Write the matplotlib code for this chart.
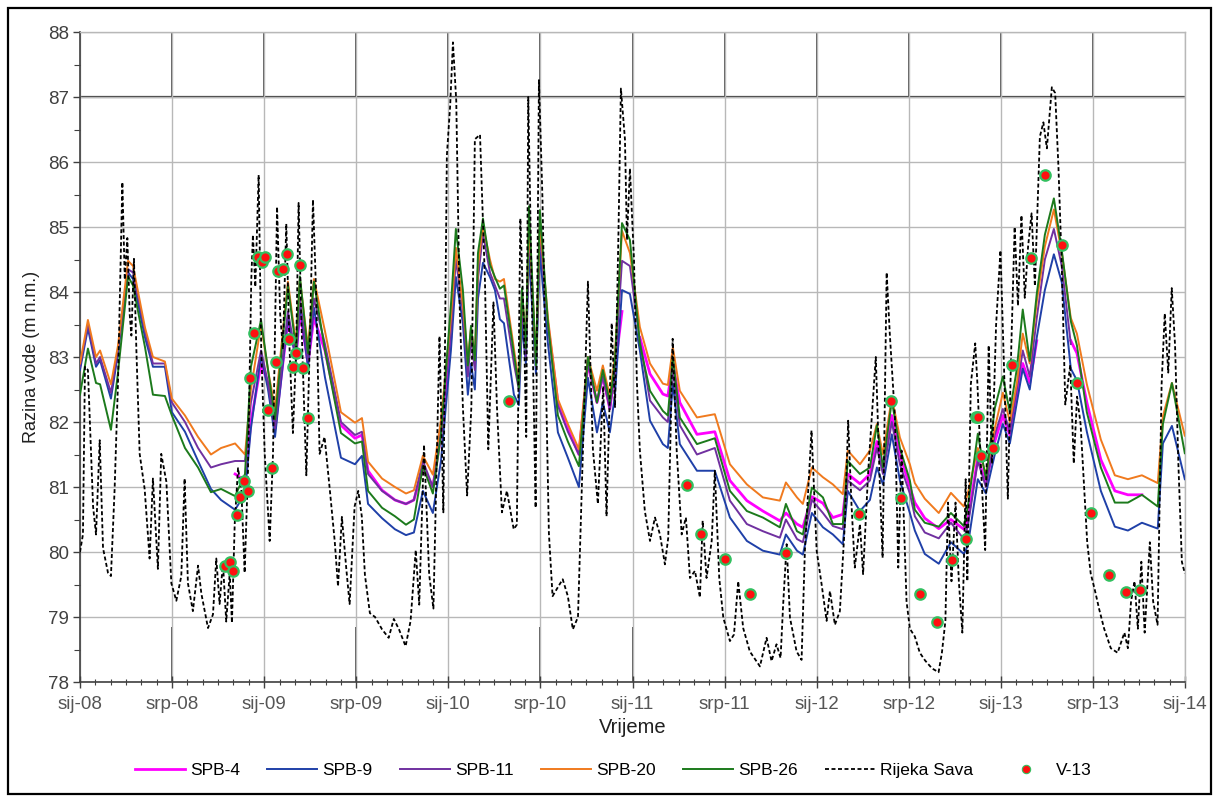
import numpy as np
import matplotlib
matplotlib.use("Agg")
import matplotlib.pyplot as plt
from matplotlib.patches import Rectangle
from matplotlib.lines import Line2D

plt.rcParams['font.family'] = ['Liberation Sans', 'DejaVu Sans']
nan = np.nan

# ---------------- data (time in decimal years) ----------------
well_t = [
    2008.000, 2008.043, 2008.087, 2008.109, 2008.168, 2008.206, 2008.261, 2008.288, 2008.353, 2008.396,
    2008.461, 2008.499, 2008.570, 2008.641, 2008.711, 2008.766, 2008.842, 2008.896, 2008.928, 2008.983,
    2009.021, 2009.059, 2009.129, 2009.173, 2009.194, 2009.238, 2009.270, 2009.330, 2009.417, 2009.493,
    2009.531, 2009.564, 2009.640, 2009.710, 2009.770, 2009.813, 2009.862, 2009.916, 2009.960, 2010.014,
    2010.041, 2010.079, 2010.106, 2010.123, 2010.144, 2010.161, 2010.188, 2010.226, 2010.253, 2010.280,
    2010.302, 2010.356, 2010.383, 2010.400, 2010.421, 2010.438, 2010.476, 2010.497, 2010.541, 2010.595,
    2010.649, 2010.709, 2010.758, 2010.807, 2010.839, 2010.877, 2010.904, 2010.943, 2010.986, 2011.040,
    2011.095, 2011.165, 2011.192, 2011.219, 2011.257, 2011.350, 2011.447, 2011.529, 2011.621, 2011.708,
    2011.800, 2011.833, 2011.893, 2011.925, 2011.974, 2012.034, 2012.088, 2012.142, 2012.169, 2012.235,
    2012.289, 2012.327, 2012.360, 2012.408, 2012.452, 2012.506, 2012.533, 2012.587, 2012.663, 2012.729,
    2012.799, 2012.821, 2012.875, 2012.919, 2012.967, 2013.011, 2013.049, 2013.087, 2013.119, 2013.157,
    2013.195, 2013.239, 2013.288, 2013.331, 2013.380, 2013.413, 2013.467, 2013.543, 2013.619, 2013.690,
    2013.766, 2013.852, 2013.880, 2013.929, 2013.999]

spb4 = [
    nan, nan, nan, nan, nan, nan, nan, nan, nan, nan,
    nan, nan, nan, nan, nan, nan, 81.20, 81.10, 82.00, 82.90,
    82.60, 81.90, 83.55, 83.00, 83.70, 82.90, 83.60, 83.10, 81.95, 81.75,
    81.80, 81.25, 80.95, 80.80, 80.74, 80.80, 81.30, 81.00, 81.80, 83.30,
    nan, nan, nan, nan, nan, nan, nan, nan, nan, nan,
    nan, nan, nan, nan, nan, nan, nan, nan, 83.50, 82.30,
    81.90, 81.50, 82.90, 82.30, 82.70, 82.20, 82.80, 83.70, nan, 83.30,
    82.74, 82.43, 82.40, 82.90, 82.30, 81.81, 81.85, 81.10, 80.79, 80.63,
    80.48, 80.60, 80.43, 80.38, 80.85, 80.75, 80.53, 80.58, 81.20, 81.05,
    81.20, 81.70, 81.30, 82.10, 81.50, 81.00, 80.76, 80.52, 80.36, 80.50,
    80.35, 80.50, 81.45, 81.05, 81.70, 82.10, 81.80, 82.40, 82.90, 82.60,
    83.25, nan, nan, nan, 83.25, 83.06, 82.30, 81.42, 80.94, 80.88,
    80.88, nan, nan, nan, nan]

spb9 = [
    82.80, 83.44, 82.85, 82.95, 82.36, 83.05, 84.30, 84.20, 83.30, 82.85,
    82.85, 82.15, 81.85, 81.40, 80.97, 80.80, 80.65, 80.90, 81.90, 83.03,
    82.50, 81.77, 83.62, 82.95, 83.80, 82.85, 83.76, 82.69, 81.45, 81.35,
    81.48, 80.74, 80.52, 80.35, 80.26, 80.30, 80.94, 80.60, 81.40, 83.10,
    84.23, 83.52, 82.42, 82.90, 82.50, 83.90, 84.45, 84.23, 84.03, 83.58,
    83.52, 82.42, 82.26, 83.50, 82.90, 84.61, 82.74, 84.61, 83.20, 81.84,
    81.45, 81.00, 82.68, 81.84, 82.30, 81.84, 82.40, 84.03, 83.97, 83.10,
    82.02, 81.66, 81.60, 82.59, 81.66, 81.25, 81.25, 80.53, 80.17, 80.02,
    79.96, 80.27, 80.02, 79.96, 80.60, 80.38, 80.27, 80.12, 80.94, 80.63,
    80.80, 81.30, 81.04, 81.81, 81.10, 80.60, 80.33, 79.97, 79.82, 80.15,
    79.97, 80.10, 81.12, 80.90, 81.50, 81.97, 81.67, 82.30, 82.82, 82.50,
    83.30, 84.03, 84.58, 84.15, 82.82, 82.64, 81.85, 80.94, 80.39, 80.33,
    80.45, 80.36, 81.67, 81.94, 81.12]

spb11 = [
    82.85, 83.50, 82.90, 83.00, 82.45, 83.10, 84.35, 84.30, 83.40, 82.90,
    82.90, 82.30, 82.00, 81.60, 81.30, 81.35, 81.40, 81.40, 82.30, 83.10,
    82.60, 81.90, 83.70, 83.00, 83.90, 82.95, 83.90, 83.20, 82.00, 81.80,
    81.85, 81.20, 80.94, 80.80, 80.74, 80.80, 81.40, 81.00, 81.90, 83.40,
    84.50, 83.70, 82.70, 83.30, 82.80, 84.20, 84.90, 84.30, 84.10, 83.90,
    83.90, 82.90, 82.50, 83.80, 83.00, 85.00, 82.85, 84.90, 83.50, 82.25,
    81.85, 81.50, 82.90, 82.30, 82.70, 82.20, 82.80, 84.48, 84.40, 83.25,
    82.33, 82.07, 82.00, 82.80, 81.95, 81.50, 81.60, 80.79, 80.43, 80.32,
    80.22, 80.50, 80.20, 80.15, 80.80, 80.60, 80.40, 80.35, 81.10, 80.95,
    81.10, 81.60, 81.20, 82.00, 81.35, 80.90, 80.55, 80.30, 80.21, 80.45,
    80.20, 80.40, 81.40, 81.00, 81.80, 82.20, 81.85, 82.50, 83.10, 82.70,
    83.60, 84.50, 84.97, 84.40, 83.20, nan, nan, nan, nan, nan,
    nan, nan, nan, nan, nan]

spb20 = [
    82.90, 83.57, 83.00, 83.10, 82.58, 83.17, 84.48, 84.40, 83.45, 83.00,
    82.93, 82.36, 82.10, 81.77, 81.50, 81.60, 81.67, 81.50, 82.50, 83.50,
    82.80, 82.20, 84.16, 83.20, 84.20, 83.15, 84.20, 83.40, 82.15, 81.99,
    82.06, 81.39, 81.13, 81.00, 80.90, 80.95, 81.48, 81.19, 82.03, 83.60,
    84.68, 83.80, 82.95, 83.45, 83.00, 84.40, 85.03, 84.50, 84.20, 84.16,
    84.20, 83.13, 82.60, 84.00, 83.20, 85.10, 82.95, 85.05, 83.60, 82.35,
    81.97, 81.58, 83.00, 82.48, 82.87, 82.40, 83.00, 84.94, 84.60, 83.46,
    82.90, 82.59, 82.57, 83.15, 82.48, 82.07, 82.12, 81.35, 81.04, 80.84,
    80.79, 81.07, 80.84, 80.74, 81.30, 81.15, 81.04, 80.89, 81.56, 81.35,
    81.56, 81.97, 81.50, 82.38, 81.76, 81.35, 81.06, 80.82, 80.60, 80.91,
    80.70, 80.90, 81.60, 81.20, 81.90, 82.45, 82.00, 82.60, 83.36, 82.90,
    83.85, 84.70, 85.27, 84.60, 83.60, 83.36, 82.58, 81.73, 81.18, 81.12,
    81.18, 81.06, 82.09, 82.60, 81.79]

spb26 = [
    82.42, 83.13, 82.60, 82.58, 81.88, 82.75, 84.24, 84.10, 83.15, 82.42,
    82.40, 82.10, 81.60, 81.30, 80.92, 80.97, 80.86, 81.20, 82.85, 83.57,
    82.80, 82.04, 84.10, 83.12, 84.24, 83.06, 84.16, 83.10, 81.83, 81.67,
    81.70, 80.94, 80.68, 80.55, 80.42, 80.50, 81.32, 80.90, 81.80, 83.80,
    84.97, 84.03, 82.87, 83.48, 82.95, 84.60, 85.13, 84.42, 84.23, 84.05,
    84.10, 83.05, 82.52, 84.06, 83.13, 85.32, 82.87, 85.26, 83.52, 82.10,
    81.70, 81.32, 83.00, 82.30, 82.80, 82.30, 82.90, 85.06, 84.80, 83.20,
    82.48, 82.17, 82.10, 83.00, 82.07, 81.66, 81.75, 80.94, 80.63, 80.53,
    80.38, 80.74, 80.32, 80.27, 80.99, 80.84, 80.43, 80.43, 81.40, 81.20,
    81.30, 81.95, 81.30, 82.33, 81.60, 81.10, 80.65, 80.45, 80.39, 80.60,
    80.40, 80.70, 81.82, 81.12, 82.21, 82.70, 82.15, 82.82, 83.73, 82.94,
    83.97, 84.88, 85.44, 84.64, 83.55, 83.18, 82.15, 81.30, 80.76, 80.76,
    80.88, 80.70, 81.97, 82.60, 81.52]

sava_t = [
    2008.000, 2008.016, 2008.027, 2008.043, 2008.071, 2008.087, 2008.107, 2008.125, 2008.152, 2008.168,
    2008.188, 2008.206, 2008.230, 2008.243, 2008.257, 2008.270, 2008.279, 2008.293, 2008.306, 2008.324,
    2008.351, 2008.378, 2008.396, 2008.423, 2008.441, 2008.469, 2008.496, 2008.523, 2008.550, 2008.568,
    2008.586, 2008.613, 2008.641, 2008.659, 2008.695, 2008.722, 2008.740, 2008.758, 2008.776, 2008.794,
    2008.813, 2008.825, 2008.840, 2008.858, 2008.876, 2008.894, 2008.912, 2008.930, 2008.939, 2008.952,
    2008.970, 2008.984, 2009.003, 2009.030, 2009.048, 2009.070, 2009.087, 2009.102, 2009.120, 2009.138,
    2009.156, 2009.174, 2009.187, 2009.201, 2009.229, 2009.247, 2009.265, 2009.283, 2009.301, 2009.328,
    2009.356, 2009.383, 2009.401, 2009.422, 2009.446, 2009.464, 2009.491, 2009.511, 2009.530, 2009.547,
    2009.574, 2009.602, 2009.640, 2009.676, 2009.704, 2009.732, 2009.768, 2009.795, 2009.823, 2009.842,
    2009.868, 2009.896, 2009.919, 2009.933, 2009.952, 2009.973, 2009.992, 2010.010, 2010.025, 2010.043,
    2010.061, 2010.079, 2010.102, 2010.125, 2010.144, 2010.172, 2010.199, 2010.217, 2010.245, 2010.264,
    2010.291, 2010.318, 2010.355, 2010.372, 2010.391, 2010.410, 2010.423, 2010.434, 2010.456, 2010.474,
    2010.492, 2010.511, 2010.530, 2010.546, 2010.566, 2010.593, 2010.621, 2010.649, 2010.676, 2010.704,
    2010.731, 2010.758, 2010.785, 2010.812, 2010.841, 2010.859, 2010.887, 2010.905, 2010.924, 2010.937,
    2010.959, 2010.970, 2010.986, 2011.008, 2011.024, 2011.040, 2011.067, 2011.095, 2011.122, 2011.149,
    2011.176, 2011.194, 2011.218, 2011.240, 2011.267, 2011.290, 2011.312, 2011.339, 2011.366, 2011.381,
    2011.402, 2011.430, 2011.447, 2011.471, 2011.493, 2011.529, 2011.551, 2011.574, 2011.601, 2011.637,
    2011.692, 2011.728, 2011.755, 2011.782, 2011.804, 2011.818, 2011.837, 2011.855, 2011.891, 2011.918,
    2011.936, 2011.972, 2012.000, 2012.027, 2012.054, 2012.072, 2012.099, 2012.126, 2012.153, 2012.171,
    2012.189, 2012.207, 2012.235, 2012.252, 2012.280, 2012.321, 2012.343, 2012.358, 2012.380, 2012.397,
    2012.425, 2012.443, 2012.461, 2012.488, 2012.506, 2012.533, 2012.560, 2012.589, 2012.626, 2012.662,
    2012.680, 2012.699, 2012.713, 2012.732, 2012.754, 2012.772, 2012.791, 2012.809, 2012.818, 2012.837,
    2012.861, 2012.873, 2012.891, 2012.915, 2012.934, 2012.952, 2012.974, 2012.998, 2013.020, 2013.038,
    2013.057, 2013.075, 2013.093, 2013.112, 2013.130, 2013.148, 2013.167, 2013.185, 2013.212, 2013.231,
    2013.250, 2013.277, 2013.295, 2013.313, 2013.331, 2013.350, 2013.377, 2013.396, 2013.414, 2013.433,
    2013.451, 2013.469, 2013.488, 2013.510, 2013.534, 2013.561, 2013.597, 2013.634, 2013.671, 2013.690,
    2013.707, 2013.726, 2013.744, 2013.763, 2013.781, 2013.809, 2013.827, 2013.851, 2013.873, 2013.890,
    2013.909, 2013.928, 2013.946, 2013.964, 2013.983, 2013.999]

sava = [
    80.00, 80.27, 82.85, 82.80, 80.70, 80.27, 81.72, 80.06, 79.68, 79.63,
    80.97, 82.58, 85.69, 84.19, 84.83, 83.65, 83.33, 84.51, 83.12, 81.51,
    80.97, 79.90, 81.13, 79.74, 81.51, 81.08, 79.52, 79.25, 79.63, 81.13,
    79.52, 79.09, 79.79, 79.36, 78.83, 79.04, 79.90, 79.20, 79.84, 78.93,
    79.68, 78.91, 80.43, 81.29, 80.97, 79.68, 81.24, 84.19, 84.88, 84.08,
    85.80, 83.12, 81.51, 80.17, 81.51, 85.31, 83.65, 83.12, 85.05, 83.12,
    81.83, 83.12, 85.37, 83.65, 81.18, 83.12, 85.42, 83.92, 81.51, 81.77,
    80.97, 80.17, 79.47, 80.54, 79.74, 79.20, 80.70, 80.94, 80.55, 79.65,
    79.06, 79.00, 78.81, 78.68, 78.97, 78.81, 78.55, 78.94, 80.03, 79.19,
    81.65, 79.65, 79.13, 80.94, 83.32, 80.61, 86.10, 86.87, 87.84, 86.94,
    83.84, 82.23, 80.87, 82.23, 86.35, 86.42, 84.16, 81.58, 83.84, 82.23,
    80.61, 80.94, 80.35, 80.42, 85.13, 83.52, 81.77, 87.00, 83.52, 80.68,
    87.26, 85.45, 82.68, 80.29, 79.32, 79.45, 79.58, 79.32, 78.81, 79.00,
    81.58, 84.16, 81.58, 80.74, 82.55, 80.55, 83.52, 82.23, 84.94, 87.13,
    86.35, 84.80, 85.90, 84.50, 82.60, 81.56, 80.63, 80.17, 80.53, 80.27,
    79.81, 80.22, 83.28, 81.56, 80.27, 80.53, 79.60, 79.71, 79.30, 80.48,
    79.60, 80.17, 81.25, 79.60, 78.99, 78.63, 78.73, 79.55, 78.83, 78.47,
    78.24, 78.68, 78.32, 78.58, 78.37, 79.19, 80.12, 78.99, 78.47, 78.34,
    80.02, 81.87, 80.02, 79.50, 78.94, 79.40, 78.88, 79.09, 80.43, 82.02,
    80.74, 79.76, 80.43, 79.66, 81.25, 83.00, 81.04, 79.91, 84.30, 83.36,
    82.07, 79.76, 81.56, 79.24, 78.82, 78.70, 78.45, 78.33, 78.21, 78.15,
    78.45, 78.94, 80.76, 79.55, 80.76, 79.55, 78.76, 81.12, 79.55, 82.58,
    83.21, 82.58, 81.36, 80.03, 83.18, 81.36, 83.48, 84.64, 82.58, 80.82,
    83.18, 85.00, 83.79, 85.18, 83.91, 84.70, 85.21, 84.09, 86.39, 86.61,
    86.21, 87.15, 87.06, 85.91, 84.39, 82.27, 82.88, 81.36, 82.39, 81.97,
    81.06, 80.15, 79.67, 79.42, 79.12, 78.82, 78.52, 78.45, 78.76, 78.52,
    79.24, 79.55, 78.82, 79.85, 78.76, 80.15, 79.24, 78.88, 82.58, 83.67,
    82.76, 84.06, 83.18, 81.36, 79.85, 79.67]

v13_t = [
    2008.786, 2008.813, 2008.831, 2008.852, 2008.870, 2008.892, 2008.910, 2008.925, 2008.946, 2008.966,
    2008.988, 2009.004, 2009.022, 2009.041, 2009.064, 2009.077, 2009.100, 2009.122, 2009.135, 2009.158,
    2009.174, 2009.194, 2009.212, 2009.236, 2010.327, 2011.294, 2011.370, 2011.503, 2011.637, 2011.831,
    2012.231, 2012.405, 2012.459, 2012.561, 2012.653, 2012.736, 2012.809, 2012.864, 2012.877, 2012.892,
    2012.959, 2013.062, 2013.163, 2013.240, 2013.332, 2013.411, 2013.491, 2013.586, 2013.682, 2013.758]
v13 = [
    79.78, 79.84, 79.71, 80.57, 80.84, 81.10, 80.94, 82.67, 83.37, 84.54,
    84.46, 84.54, 82.18, 81.29, 82.93, 84.32, 84.35, 84.59, 83.28, 82.85,
    83.06, 84.41, 82.83, 82.06, 82.32, 81.03, 80.27, 79.89, 79.36, 79.99,
    80.58, 82.33, 80.83, 79.36, 78.92, 79.88, 80.20, 82.07, 82.07, 81.48,
    81.60, 82.88, 84.53, 85.80, 84.73, 82.60, 80.60, 79.65, 79.39, 79.42]

tick_pos = [2008.0, 2008.5, 2009.0, 2009.5, 2010.0, 2010.5, 2011.0, 2011.5,
            2012.0, 2012.5, 2013.0, 2013.5, 2014.0]
tick_labels = ['sij-08', 'srp-08', 'sij-09', 'srp-09', 'sij-10', 'srp-10', 'sij-11',
               'srp-11', 'sij-12', 'srp-12', 'sij-13', 'srp-13', 'sij-14']
y_ticks = [78, 79, 80, 81, 82, 83, 84, 85, 86, 87, 88]

# ---------------- figure ----------------
W, H = 1219, 798
fig = plt.figure(figsize=(W / 100, H / 100), dpi=100)
ax = fig.add_axes([80 / W, 1 - 682 / H, 1105 / W, 650 / H])

ax.set_xlim(2008.0, 2014.0)
ax.set_ylim(78, 88)
ax.grid(True, which='major', color='#b8b8b8', lw=1.0, zorder=0)

# darker segments in top and bottom bands (as in the original)
ax.vlines(tick_pos[1:-1], 87, 88, color='#3a3a3a', lw=1.2, zorder=1)
ax.axhline(87, color='#3a3a3a', lw=1.6, zorder=1)
ax.vlines([2008.5, 2009.5, 2010.5, 2011.0, 2012.5], 78, 78.85, color='#3a3a3a', lw=1.2, zorder=1)

series = [
    ('SPB-4', spb4, '#ff00ff', 2.0),
    ('SPB-9', spb9, '#1f40a8', 1.4),
    ('SPB-11', spb11, '#7030a0', 1.4),
    ('SPB-20', spb20, '#f07a1e', 1.4),
    ('SPB-26', spb26, '#1c7a1c', 1.4),
]
handles = []
for name, vals, col, lw in series:
    ln, = ax.plot(well_t, vals, color=col, lw=lw, zorder=3, label=name)
    handles.append(ln)

ls, = ax.plot(sava_t, sava, color='black', lw=1.3, ls=(0, (2.2, 1.4)), zorder=4,
              label='Rijeka Sava')
handles.append(ls)
ax.plot(v13_t, v13, ls='none', marker='o', ms=7.5, mfc='#ff1010', mec='#33c060',
        mew=1.6, zorder=5)
handles.append(Line2D([], [], ls='none', marker='o', ms=6, mfc='#ff1010',
                      mec='#33c060', mew=0.8, label='V-13'))

# ticks
ax.set_xticks(tick_pos)
ax.set_xticklabels(tick_labels)
ax.set_xticks(np.arange(2008, 2014.001, 1 / 12), minor=True)
ax.set_yticks(y_ticks)
ax.set_yticks(np.arange(78, 88.01, 0.5), minor=True)
ax.tick_params(axis='x', which='major', direction='inout', length=8, width=1.0,
               color='#404040', labelsize=13.5, labelcolor='#555555', pad=6)
ax.tick_params(axis='x', which='minor', direction='inout', length=5, width=0.8,
               color='#404040')
ax.tick_params(axis='y', which='major', direction='out', length=5, width=1.0,
               color='#404040', labelsize=13.5, labelcolor='#404040', pad=3)
ax.tick_params(axis='y', which='minor', direction='out', length=4, width=0.8,
               color='#404040')

for s in ['left', 'bottom']:
    ax.spines[s].set_color('#404040')
    ax.spines[s].set_linewidth(1.2)
for s in ['top', 'right']:
    ax.spines[s].set_color('#b8b8b8')
    ax.spines[s].set_linewidth(1.0)

ax.set_ylabel('Razina vode (m n.m.)', fontsize=13, color='#202020', labelpad=6)
ax.set_xlabel('Vrijeme', fontsize=14.5, color='#202020', labelpad=4)

fig.legend(handles=handles, labels=[h.get_label() for h in handles], ncol=7,
           loc='center', bbox_to_anchor=(0.503, 1 - 770 / H), frameon=False,
           fontsize=12.5, handlelength=2.9, handletextpad=0.3, columnspacing=1.55)

fig.patches.append(Rectangle((8 / W, 4 / H), 1203 / W, 786 / H, transform=fig.transFigure,
                             fill=False, edgecolor='black', lw=1.6))

fig.savefig('out.png', dpi=100)
